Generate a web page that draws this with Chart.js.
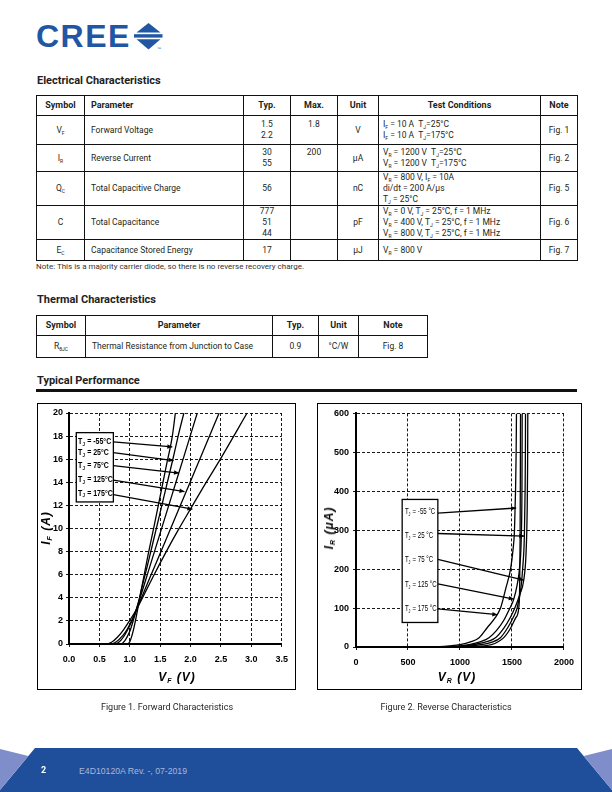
<!DOCTYPE html>
<html><head><meta charset="utf-8">
<script src="https://cdn.jsdelivr.net/npm/chart.js@4.4.0/dist/chart.umd.min.js"></script>
<style>
html,body{margin:0;padding:0;background:#fff;}
body{width:612px;height:792px;position:relative;overflow:hidden;font-family:Roboto,'Liberation Sans',sans-serif;color:#231f20;}
.abs{position:absolute;white-space:nowrap;}
.h2{font-weight:bold;font-size:11px;line-height:13px;left:37px;color:#222;}
table{position:absolute;border-collapse:collapse;table-layout:fixed;font-size:8.5px;line-height:11px;}
td,th{border:1px solid #111;padding:0;text-align:center;vertical-align:middle;overflow:hidden;white-space:nowrap;}
th{font-weight:bold;font-size:9px;}
td.l{text-align:left;padding-left:6px;}
td.tc{text-align:left;padding-left:4px;}
sub{font-size:5px;vertical-align:-1.5px;line-height:0;}
.box{position:absolute;border:1px solid #000;}
.box canvas{position:absolute;left:0;top:0;}
.axt{position:absolute;font-family:'Liberation Sans',Arial,sans-serif;font-weight:bold;font-style:italic;font-size:12px;letter-spacing:1px;white-space:nowrap;transform:translate(-50%,-50%);color:#000;}
.axt sub{font-size:7px;vertical-align:-2px;}
.cap{position:absolute;font-size:9px;transform:translateX(-50%);white-space:nowrap;color:#231f20;}
</style></head>
<body>

<!-- Logo -->
<div class="abs" style="left:36px;top:20px;font-family:'Liberation Sans',Arial,sans-serif;font-weight:bold;font-size:32px;line-height:32px;letter-spacing:1.5px;color:#2156a5;">CREE</div>
<svg class="abs" style="left:0;top:0" width="200" height="60">
  <polygon points="148.5,23 136.5,32.5 160.5,32.5" fill="#2156a5"/>
  <rect x="134" y="34.2" width="28.5" height="3.4" fill="#2156a5"/>
  <polygon points="136.5,39.2 160.5,39.2 148.5,49.5" fill="#2156a5"/>
  <text x="157" y="50" font-size="4" fill="#2156a5" font-family="Liberation Sans">™</text>
</svg>

<div class="abs h2" style="top:74px;">Electrical Characteristics</div>

<table style="left:36px;top:95px;width:541px;">
<colgroup><col style="width:48px"><col style="width:159px"><col style="width:47px"><col style="width:47px"><col style="width:41px"><col style="width:162px"><col style="width:37px"></colgroup>
<tr style="height:20px"><th>Symbol</th><th style="text-align:left;padding-left:6px">Parameter</th><th>Typ.</th><th>Max.</th><th>Unit</th><th>Test Conditions</th><th>Note</th></tr>
<tr style="height:29px"><td>V<sub>F</sub></td><td class="l">Forward Voltage</td><td>1.5<br>2.2</td><td>1.8<br>&nbsp;</td><td>V</td><td class="tc">I<sub>F</sub> = 10 A&nbsp; T<sub>J</sub>=25°C<br>I<sub>F</sub> = 10 A&nbsp; T<sub>J</sub>=175°C</td><td>Fig. 1</td></tr>
<tr style="height:27px"><td>I<sub>R</sub></td><td class="l">Reverse Current</td><td>30<br>55</td><td>200<br>&nbsp;</td><td>μA</td><td class="tc">V<sub>R</sub> = 1200 V&nbsp; T<sub>J</sub>=25°C<br>V<sub>R</sub> = 1200 V&nbsp; T<sub>J</sub>=175°C</td><td>Fig. 2</td></tr>
<tr style="height:32px"><td>Q<sub>C</sub></td><td class="l">Total Capacitive Charge</td><td>56</td><td></td><td>nC</td><td class="tc">V<sub>R</sub> = 800 V, I<sub>F</sub> = 10A<br>di/dt = 200 A/μs<br>T<sub>J</sub> = 25°C</td><td>Fig. 5</td></tr>
<tr style="height:34px"><td>C</td><td class="l">Total Capacitance</td><td>777<br>51<br>44</td><td></td><td>pF</td><td class="tc">V<sub>R</sub> = 0 V, T<sub>J</sub> = 25°C, f = 1 MHz<br>V<sub>R</sub> = 400 V, T<sub>J</sub> = 25°C, f = 1 MHz<br>V<sub>R</sub> = 800 V, T<sub>J</sub> = 25°C, f = 1 MHz</td><td>Fig. 6</td></tr>
<tr style="height:21px"><td>E<sub>C</sub></td><td class="l">Capacitance Stored Energy</td><td>17</td><td></td><td>μJ</td><td class="tc">V<sub>R</sub> = 800 V</td><td>Fig. 7</td></tr>
</table>
<div class="abs" style="left:36px;top:262px;font-size:8px;line-height:10px;color:#333;">Note: This is a majority carrier diode, so there is no reverse recovery charge.</div>

<div class="abs h2" style="top:293px;">Thermal Characteristics</div>
<table style="left:36px;top:315px;width:391px;">
<colgroup><col style="width:49px"><col style="width:187px"><col style="width:46px"><col style="width:40px"><col style="width:69px"></colgroup>
<tr style="height:20px"><th>Symbol</th><th>Parameter</th><th>Typ.</th><th>Unit</th><th>Note</th></tr>
<tr style="height:22px"><td>R<sub>θJC</sub></td><td class="l">Thermal Resistance from Junction to Case</td><td>0.9</td><td>°C/W</td><td>Fig. 8</td></tr>
</table>

<div class="abs h2" style="top:374px;">Typical Performance</div>
<div class="abs" style="left:36px;top:389px;width:541px;height:2.5px;background:#111;"></div>

<div class="box" style="left:37px;top:403px;width:257px;height:285px;"><canvas id="c1" width="257" height="285"></canvas></div>
<div class="box" style="left:317px;top:403px;width:263px;height:285px;"><canvas id="c2" width="263" height="285"></canvas></div>

<div class="axt" style="left:46px;top:528px;transform:translate(-50%,-50%) rotate(-90deg);">I<sub>F</sub> (A)</div>
<div class="axt" style="left:177px;top:677px;">V<sub>F</sub> (V)</div>
<div class="axt" style="left:329px;top:528px;transform:translate(-50%,-50%) rotate(-90deg);">I<sub>R</sub> (μA)</div>
<div class="axt" style="left:457px;top:677px;">V<sub>R</sub> (V)</div>

<div class="cap" style="left:167px;top:702px;">Figure 1. Forward Characteristics</div>
<div class="cap" style="left:446px;top:702px;">Figure 2. Reverse Characteristics</div>

<!-- Footer -->
<svg class="abs" style="left:0;top:740px" width="612" height="52">
  <polygon points="35,8 577,8 612,50 612,52 0,52 0,50" fill="#1f4f9b"/>
  <polygon points="0,9 28.3,16 0,50" fill="#7f8dcb"/>
  <polygon points="612,9 583.7,16 612,50" fill="#7f8dcb"/>
</svg>
<div class="abs" style="left:41px;top:765px;font-size:9px;font-weight:bold;color:#fff;">2</div>
<div class="abs" style="left:79px;top:765.5px;font-size:8.7px;color:#a9b6dc;font-family:'Liberation Sans',Arial,sans-serif;">E4D10120A Rev. -, 07-2019</div>

<script>
// ---------- Figure 1: Forward characteristics (VF in V, IF in A) ----------
const vfM55 = [0, 0.95, 1.0, 1.05, 1.1, 1.15, 1.2, 1.3, 1.4, 1.5, 1.6, 1.7, 1.75];
const ifM55 = [0, 0, 0.2, 1.0, 2.2, 3.6, 5.0, 7.7, 10.2, 12.8, 15.4, 18.0, 20];
const vf25 = [0, 0.85, 0.92, 1.0, 1.05, 1.1, 1.15, 1.2, 1.3, 1.4, 1.5, 1.6, 1.7, 1.8, 1.89];
const if25 = [0, 0, 0.3, 1.1, 1.9, 2.8, 3.8, 4.9, 7.0, 9.2, 11.4, 13.6, 15.8, 18.1, 20];
const vf75 = [0, 0.76, 0.85, 0.92, 1.0, 1.05, 1.1, 1.2, 1.3, 1.5, 1.7, 1.9, 2.11];
const if75 = [0, 0, 0.3, 0.8, 1.6, 2.2, 2.9, 4.5, 6.2, 9.6, 13.0, 16.4, 20];
const vf125 = [0, 0.68, 0.78, 0.88, 0.95, 1.0, 1.1, 1.2, 1.4, 1.6, 1.8, 2.0, 2.2, 2.47];
const if125 = [0, 0, 0.2, 0.7, 1.2, 1.7, 2.8, 4.1, 6.6, 9.1, 11.6, 14.1, 16.6, 20];
const vf175 = [0, 0.6, 0.7, 0.8, 0.9, 1.0, 1.1, 1.2, 1.4, 1.6, 1.8, 2.0, 2.2, 2.5, 2.93];
const if175 = [0, 0, 0.15, 0.6, 1.25, 2.05, 2.9, 3.9, 6.0, 8.0, 9.9, 11.7, 13.5, 16.1, 20];

const fwdXTicks = { min: 0, max: 3.5, step: 0.5 };
const fwdYTicks = { min: 0, max: 20, step: 2 };

// Callout labels (Figure 1)
const fwdTemps = ['-55°C', '25°C', '75°C', '125°C', '175°C'];
const fwdLabelV = 0.15;
const fwdLabelI = [17.5, 16.54, 15.41, 14.2, 13.07];
const fwdArrowFromV = 0.73;
const fwdArrowFromI = [17.5, 16.57, 15.45, 14.18, 12.94];
const fwdArrowToV = [1.70, 1.72, 1.81, 1.90, 2.03];
const fwdArrowToI = [17.06, 15.88, 14.8, 13.2, 11.67];
const fwdBox = [0.12, 0.73, 12.3, 18.3]; // vMin, vMax, iMin, iMax

// ---------- Figure 2: Reverse characteristics (VR in V, IR in µA) ----------
const vrM55 = [900, 1100, 1300, 1421, 1490, 1535, 1565, 1574, 1578, 1580, 1582];
const irM55 = [0, 1, 6, 24, 50, 75, 100, 160, 280, 420, 600];
const vr25 = [850, 1000, 1200, 1300, 1389, 1460, 1510, 1549, 1585, 1605, 1619, 1626, 1629, 1630];
const ir25 = [0, 1, 6, 12, 24, 50, 75, 100, 150, 210, 285, 400, 500, 600];
const vr75 = [800, 1000, 1100, 1200, 1341, 1420, 1480, 1527, 1575, 1613, 1635, 1646, 1650, 1652];
const ir75 = [0, 2, 5, 10, 24, 48, 74, 100, 135, 172, 240, 350, 460, 600];
const vr125 = [750, 900, 1000, 1100, 1200, 1279, 1350, 1420, 1480, 1517, 1550, 1575, 1590, 1596, 1598];
const ir125 = [0, 1, 3, 7, 14, 24, 42, 68, 100, 123, 160, 210, 290, 420, 600];
const vr175 = [700, 800, 900, 1000, 1100, 1184, 1263, 1330, 1390, 1440, 1486, 1510, 1524, 1534, 1540, 1543];
const ir175 = [0, 1, 3, 6, 13, 24, 50, 72, 100, 150, 200, 250, 300, 400, 500, 600];

const revXTicks = { min: 0, max: 2000, step: 500 };
const revYTicks = { min: 0, max: 600, step: 100 };

// Callout labels (Figure 2)
const revTemps = ['-55 °C', '25 °C', '75 °C', '125 °C', '175 °C'];
const revLabelV = 470;
const revLabelI = [347.7, 285.4, 223.8, 159.7, 97.4];
const revArrowFromV = 787;
const revArrowFromI = [344, 291.5, 225, 162, 98];
const revArrowToV = [1540, 1619, 1613, 1517, 1359];
const revArrowToI = [357, 285, 172, 123, 83];
const revBox = [444, 787, 63, 379];

// ---------- helpers ----------
const TICKFONT = "'Liberation Sans',Arial,sans-serif";
function pts(xs, ys) { return xs.map((x, i) => ({ x: x, y: ys[i] })); }
function ds(xs, ys) {
  return { data: pts(xs, ys), showLine: true, fill: false, pointRadius: 0, borderColor: '#000',
           borderWidth: 1.3, cubicInterpolationMode: 'monotone' };
}
function calloutPlugin(c) {
  return {
    id: 'callout',
    afterDatasetsDraw(chart) {
      const { ctx, scales: { x, y } } = chart;
      ctx.save();
      const x1 = x.getPixelForValue(c.box[0]), x2 = x.getPixelForValue(c.box[1]);
      const y1 = y.getPixelForValue(c.box[3]), y2 = y.getPixelForValue(c.box[2]);
      ctx.fillStyle = '#fff';
      ctx.fillRect(x1, y1, x2 - x1, y2 - y1);
      ctx.strokeStyle = '#000'; ctx.lineWidth = 1.3;
      ctx.strokeRect(x1, y1, x2 - x1, y2 - y1);
      for (let i = 0; i < c.temps.length; i++) {
        const ax = x.getPixelForValue(c.fromV), ay = y.getPixelForValue(c.fromI[i]);
        const bx = x.getPixelForValue(c.toV[i]), by = y.getPixelForValue(c.toI[i]);
        ctx.beginPath(); ctx.moveTo(ax, ay); ctx.lineTo(bx, by);
        ctx.lineWidth = 1.3; ctx.strokeStyle = '#000'; ctx.stroke();
        const ang = Math.atan2(by - ay, bx - ax), L = 5, W = 2.2;
        ctx.beginPath();
        ctx.moveTo(bx, by);
        ctx.lineTo(bx - L * Math.cos(ang) + W * Math.sin(ang), by - L * Math.sin(ang) - W * Math.cos(ang));
        ctx.lineTo(bx - L * Math.cos(ang) - W * Math.sin(ang), by - L * Math.sin(ang) + W * Math.cos(ang));
        ctx.closePath(); ctx.fillStyle = '#000'; ctx.fill();
      }
      ctx.fillStyle = '#000'; ctx.textBaseline = 'middle'; ctx.textAlign = 'left';
      for (let i = 0; i < c.temps.length; i++) {
        const px0 = x.getPixelForValue(c.labelV), py = y.getPixelForValue(c.labelI[i]);
        ctx.save();
        ctx.translate(px0, py);
        ctx.scale(c.squeeze, 1);
        let px = 0;
        ctx.font = c.weight + ' ' + c.size + 'px ' + TICKFONT;
        ctx.fillText('T', px, 0); px += ctx.measureText('T').width;
        ctx.font = c.weight + ' ' + (c.size * 0.62) + 'px ' + TICKFONT;
        ctx.fillText('J', px, 2.5); px += ctx.measureText('J').width + 0.5;
        ctx.font = c.weight + ' ' + c.size + 'px ' + TICKFONT;
        ctx.fillText(' = ' + c.temps[i], px, 0);
        ctx.restore();
      }
      ctx.restore();
    }
  };
}
function axisOpts(t, yW, xH, isX, fmt, pad) {
  return {
    type: 'linear', min: t.min, max: t.max,
    afterFit: s => { if (isX) s.height = xH; else s.width = yW; },
    ticks: { stepSize: t.step, color: '#000', font: { family: TICKFONT, weight: 'bold', size: 9 },
             padding: pad, maxRotation: 0, autoSkip: false, callback: fmt },
    grid: { color: '#000', lineWidth: 0.9, tickLength: 3, tickColor: '#000', tickBorderDash: [] },
    border: { display: true, color: '#000', width: 2, dash: [3, 2] }
  };
}
Chart.defaults.font.family = TICKFONT;

new Chart(document.getElementById('c1'), {
  type: 'scatter',
  data: { datasets: [ds(vfM55, ifM55), ds(vf25, if25), ds(vf75, if75), ds(vf125, if125), ds(vf175, if175)] },
  options: {
    responsive: false, animation: false, devicePixelRatio: 1,
    layout: { padding: { left: 0, right: 9, top: 9, bottom: 0 } },
    plugins: { legend: { display: false }, tooltip: { enabled: false } },
    scales: {
      x: axisOpts(fwdXTicks, 31, 45, true, v => Number(v).toFixed(1), 7),
      y: axisOpts(fwdYTicks, 31, 45, false, v => String(v), 3)
    }
  },
  plugins: [calloutPlugin({ temps: fwdTemps, labelV: fwdLabelV, labelI: fwdLabelI, fromV: fwdArrowFromV,
    fromI: fwdArrowFromI, toV: fwdArrowToV, toI: fwdArrowToI, box: fwdBox, weight: 'bold', size: 9, squeeze: 0.78 })]
});

new Chart(document.getElementById('c2'), {
  type: 'scatter',
  data: { datasets: [ds(vrM55, irM55), ds(vr25, ir25), ds(vr75, ir75), ds(vr125, ir125), ds(vr175, ir175)] },
  options: {
    responsive: false, animation: false, devicePixelRatio: 1,
    layout: { padding: { left: 0, right: 15, top: 9, bottom: 0 } },
    plugins: { legend: { display: false }, tooltip: { enabled: false } },
    scales: {
      x: axisOpts(revXTicks, 38, 42, true, v => String(v), 7),
      y: axisOpts(revYTicks, 38, 42, false, v => String(v), 4)
    }
  },
  plugins: [calloutPlugin({ temps: revTemps, labelV: revLabelV, labelI: revLabelI, fromV: revArrowFromV,
    fromI: revArrowFromI, toV: revArrowToV, toI: revArrowToI, box: revBox, weight: 'normal', size: 8.5, squeeze: 0.72 })]
});
</script>
</body></html>
